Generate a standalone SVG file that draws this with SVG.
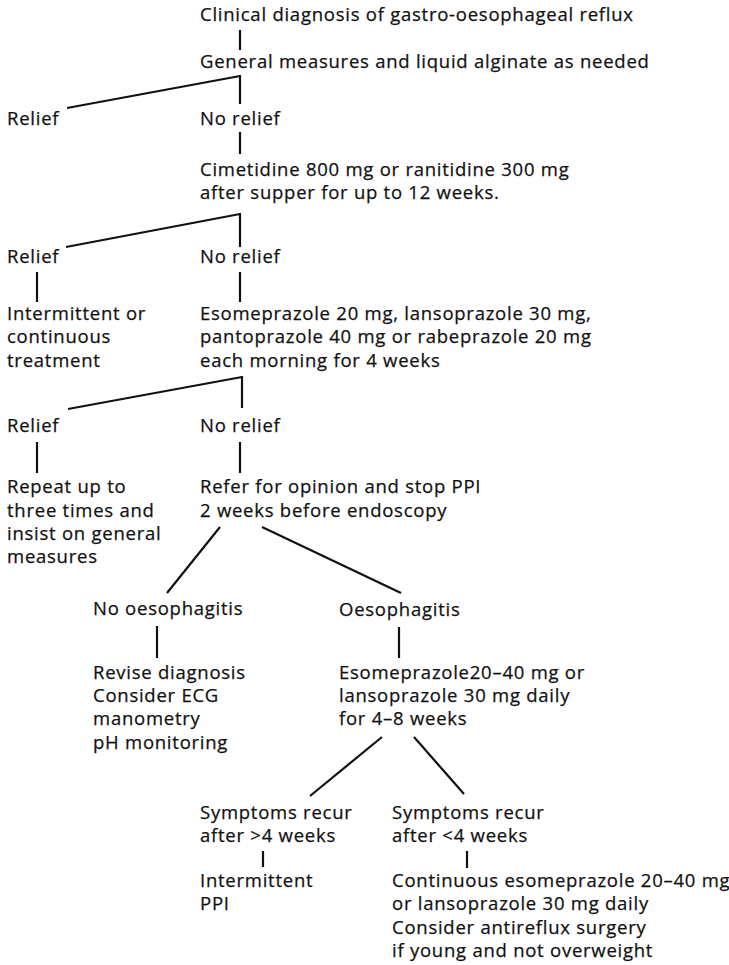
<svg xmlns="http://www.w3.org/2000/svg" width="729" height="965" viewBox="0 0 729 965">
<style>
text{font-family:"Open Sans","Noto Sans","DejaVu Sans",sans-serif;font-size:18.5px;letter-spacing:0.75px;fill:#111;stroke:#111;stroke-width:0.25}
.c line{stroke:#111;stroke-width:2.2;stroke-linecap:butt;fill:none}
</style>
<rect width="729" height="965" fill="#fff"/>
<g class="c" id="connectors">
<line x1="240" y1="30" x2="240" y2="50"/>
<line x1="240" y1="76" x2="67" y2="108"/>
<line x1="240" y1="75" x2="240" y2="104"/>
<line x1="240" y1="132" x2="240" y2="154"/>
<line x1="240" y1="214" x2="66" y2="247"/>
<line x1="240" y1="213" x2="240" y2="247"/>
<line x1="37" y1="272" x2="37" y2="302"/>
<line x1="240" y1="272" x2="240" y2="302"/>
<line x1="242" y1="377" x2="68" y2="409"/>
<line x1="242" y1="376" x2="242" y2="408"/>
<line x1="37" y1="442" x2="37" y2="473"/>
<line x1="240" y1="442" x2="240" y2="473"/>
<line x1="220" y1="527" x2="167" y2="593"/>
<line x1="262" y1="527" x2="401" y2="593"/>
<line x1="157" y1="626" x2="157" y2="658"/>
<line x1="399" y1="627" x2="399" y2="658"/>
<line x1="382" y1="737" x2="310" y2="796"/>
<line x1="414" y1="737" x2="464" y2="794"/>
<line x1="263" y1="851" x2="263" y2="867"/>
<line x1="467" y1="851" x2="467" y2="868"/>
</g>
<g id="n1"><text x="200" y="21">Clinical diagnosis of gastro-oesophageal reflux</text></g>
<g id="n2"><text x="200" y="68">General measures and liquid alginate as needed</text></g>
<g id="n3"><text x="7" y="125">Relief</text></g>
<g id="n4"><text x="200" y="125">No relief</text></g>
<g id="n5"><text x="200" y="176">Cimetidine 800 mg or ranitidine 300 mg</text><text x="200" y="199">after supper for up to 12 weeks.</text></g>
<g id="n6"><text x="7" y="263">Relief</text></g>
<g id="n7"><text x="200" y="263">No relief</text></g>
<g id="n8"><text x="7" y="320">Intermittent or</text><text x="7" y="343">continuous</text><text x="7" y="367">treatment</text></g>
<g id="n9"><text x="200" y="320">Esomeprazole 20 mg, lansoprazole 30 mg,</text><text x="200" y="343">pantoprazole 40 mg or rabeprazole 20 mg</text><text x="200" y="367">each morning for 4 weeks</text></g>
<g id="n10"><text x="7" y="432">Relief</text></g>
<g id="n11"><text x="200" y="432">No relief</text></g>
<g id="n12"><text x="7" y="493">Repeat up to</text><text x="7" y="517">three times and</text><text x="7" y="540">insist on general</text><text x="7" y="563">measures</text></g>
<g id="n13"><text x="200" y="493">Refer for opinion and stop PPI</text><text x="200" y="517">2 weeks before endoscopy</text></g>
<g id="n14"><text x="93" y="615">No oesophagitis</text></g>
<g id="n15"><text x="339" y="616">Oesophagitis</text></g>
<g id="n16"><text x="93" y="679">Revise diagnosis</text><text x="93" y="702">Consider ECG</text><text x="93" y="725">manometry</text><text x="93" y="749">pH monitoring</text></g>
<g id="n17"><text x="339" y="679">Esomeprazole20–40 mg or</text><text x="339" y="702">lansoprazole 30 mg daily</text><text x="339" y="725">for 4–8 weeks</text></g>
<g id="n18"><text x="200" y="819">Symptoms recur</text><text x="200" y="842">after &gt;4 weeks</text></g>
<g id="n19"><text x="392" y="819">Symptoms recur</text><text x="392" y="842">after &lt;4 weeks</text></g>
<g id="n20"><text x="200" y="887">Intermittent</text><text x="200" y="910">PPI</text></g>
<g id="n21"><text x="392" y="887">Continuous esomeprazole 20–40 mg</text><text x="392" y="910">or lansoprazole 30 mg daily</text><text x="392" y="934">Consider antireflux surgery</text><text x="392" y="957">if young and not overweight</text></g>
</svg>
